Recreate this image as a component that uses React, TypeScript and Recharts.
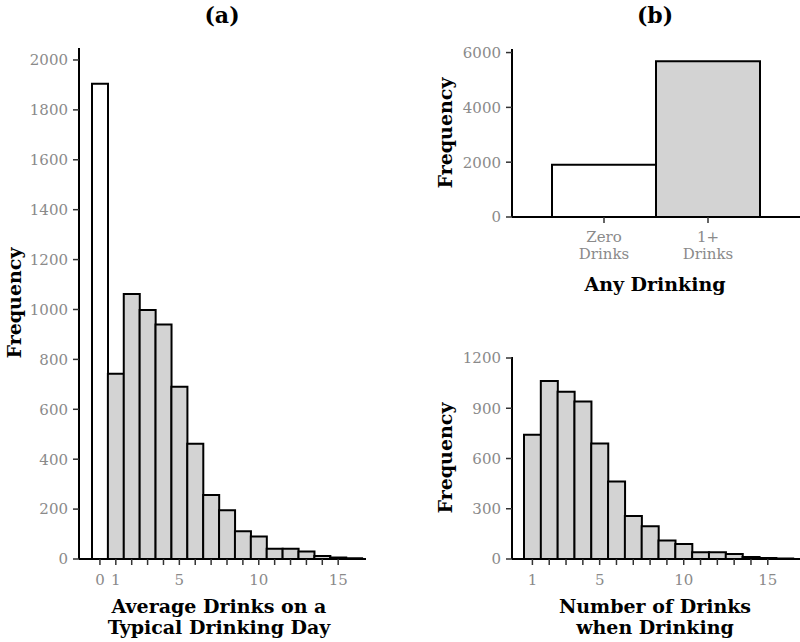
import { BarChart, Bar, XAxis, YAxis, Cell } from 'recharts';

// counts
const zeroDrinkCount = 1905;
const drinkBins = [1, 2, 3, 4, 5, 6, 7, 8, 9, 10, 11, 12, 13, 14, 15, 16];
const drinkerCounts = [742, 1062, 998, 940, 690, 462, 257, 195, 111, 90, 41, 41, 30, 12, 6, 3];
const anyDrinkingLabels = ['Zero Drinks', '1+ Drinks'];
const anyDrinkingCounts = [1905, 5680];

const avgTicks = [0, 1, 2, 3, 4, 5, 6, 7, 8, 9, 10, 11, 12, 13, 14, 15];
const avgTickLabels = [0, 1, 5, 10, 15];
const numTicks = [1, 2, 3, 4, 5, 6, 7, 8, 9, 10, 11, 12, 13, 14, 15];
const numTickLabels = [1, 5, 10, 15];
const avgYTicks = [0, 200, 400, 600, 800, 1000, 1200, 1400, 1600, 1800, 2000];
const anyYTicks = [0, 2000, 4000, 6000];
const numYTicks = [0, 300, 600, 900, 1200];

const avgData = [{ bin: 0, n: zeroDrinkCount }, ...drinkBins.map((b, i) => ({ bin: b, n: drinkerCounts[i] }))];
const numData = drinkBins.map((b, i) => ({ bin: b, n: drinkerCounts[i] }));
const anyData = anyDrinkingLabels.map((l, i) => ({ label: l, n: anyDrinkingCounts[i] }));

const GREY = '#d3d3d3';
const tickStyle = { fill: '#8a8a8a', fontSize: 15, fontFamily: 'DejaVu Serif' };
const axisLine = { stroke: '#000', strokeWidth: 2 };
const tickLine = { stroke: '#333', strokeWidth: 1.5 };
const YW = 60; // y axis width, taken out of the left margin
const XH = 40; // x axis height, taken out of the bottom margin

function Caption({ cx, cy, children, size = 19, rotate = false }: { cx: number; cy: number; children: React.ReactNode; size?: number; rotate?: boolean }) {
  return (
    <div style={{
      position: 'absolute', left: cx, top: cy, fontSize: size, fontWeight: 'bold', lineHeight: '21px',
      textAlign: 'center', whiteSpace: 'nowrap', color: '#000',
      transform: `translate(-50%, -50%)${rotate ? ' rotate(-90deg)' : ''}`,
    }}>
      {children}
    </div>
  );
}

// two stacked labels under each bar of panel (b) top
function TwoLineTick({ x, y, payload }: { x?: number; y?: number; payload?: { value: string } }) {
  const [a, b] = String(payload?.value ?? '').split(' ');
  const ty = Number(y ?? 0);
  return (
    <g>
      <text x={x} y={ty} dy="0.7em" textAnchor="middle" fill="#8a8a8a" fontSize={15} fontFamily="DejaVu Serif">{a}</text>
      <text x={x} y={ty + 17.5} dy="0.7em" textAnchor="middle" fill="#8a8a8a" fontSize={15} fontFamily="DejaVu Serif">{b}</text>
    </g>
  );
}

export default function App() {
  return (
    <div style={{ position: 'absolute', left: 0, top: 0, width: 800, height: 642, overflow: 'hidden', background: '#fff', fontFamily: 'DejaVu Serif' }}>
      <Caption cx={222} cy={15} size={22}>(a)</Caption>
      <Caption cx={655} cy={15} size={22}>(b)</Caption>

      {/* (a) average drinks */}
      <div style={{ position: 'absolute', left: 0, top: 0 }}>
        <BarChart width={400} height={642} data={avgData} barCategoryGap={0}
          margin={{ top: 48, right: 34, bottom: 83 - XH, left: 79 - YW }}>
          <XAxis dataKey="bin" type="category" height={XH} padding={{ left: 13, right: 4 }}
            ticks={avgTicks} interval={0} tickSize={6} tickMargin={9}
            tickFormatter={v => (avgTickLabels.includes(Number(v)) ? String(v) : '')}
            tick={tickStyle} axisLine={axisLine} tickLine={tickLine} />
          <YAxis type="number" width={YW} domain={[0, 2048]} ticks={avgYTicks} interval={0}
            tickSize={6} tickMargin={5} tick={tickStyle} axisLine={axisLine} tickLine={tickLine} />
          <Bar dataKey="n" stroke="#000" strokeWidth={2} isAnimationActive={false}>
            {avgData.map(d => <Cell key={d.bin} fill={d.bin === 0 ? '#fff' : GREY} />)}
          </Bar>
        </BarChart>
      </div>
      <Caption cx={14} cy={303} rotate>Frequency</Caption>
      <Caption cx={219} cy={617}>Average Drinks on a<br />Typical Drinking Day</Caption>

      {/* (b) top: any drinking */}
      <div style={{ position: 'absolute', left: 400, top: 0 }}>
        <BarChart width={400} height={300} data={anyData} barCategoryGap={0}
          margin={{ top: 49, right: 0, bottom: 83 - XH, left: 112 - YW }}>
          <XAxis dataKey="label" type="category" height={XH} padding={{ left: 40, right: 40 }}
            interval={0} tickSize={6} tickMargin={8} tick={<TwoLineTick />}
            axisLine={axisLine} tickLine={tickLine} />
          <YAxis type="number" width={YW} domain={[0, 6130]} ticks={anyYTicks} interval={0}
            tickSize={6} tickMargin={5} tick={tickStyle} axisLine={axisLine} tickLine={tickLine} />
          <Bar dataKey="n" stroke="#000" strokeWidth={2} isAnimationActive={false}>
            {anyData.map((d, i) => <Cell key={d.label} fill={i === 0 ? '#fff' : GREY} />)}
          </Bar>
        </BarChart>
      </div>
      <Caption cx={445} cy={133} rotate>Frequency</Caption>
      <Caption cx={655} cy={284}>Any Drinking</Caption>

      {/* (b) bottom: number of drinks when drinking */}
      <div style={{ position: 'absolute', left: 400, top: 320 }}>
        <BarChart width={420} height={322} data={numData} barCategoryGap={0}
          margin={{ top: 37, right: 13, bottom: 83 - XH, left: 112 - YW }}>
          <XAxis dataKey="bin" type="category" height={XH} padding={{ left: 12, right: 14 }}
            ticks={numTicks} interval={0} tickSize={6} tickMargin={9}
            tickFormatter={v => (numTickLabels.includes(Number(v)) ? String(v) : '')}
            tick={tickStyle} axisLine={axisLine} tickLine={tickLine} />
          <YAxis type="number" width={YW} domain={[0, 1206]} ticks={numYTicks} interval={0}
            tickSize={6} tickMargin={5} tick={tickStyle} axisLine={axisLine} tickLine={tickLine} />
          <Bar dataKey="n" fill={GREY} stroke="#000" strokeWidth={2} isAnimationActive={false} />
        </BarChart>
      </div>
      <Caption cx={445} cy={458} rotate>Frequency</Caption>
      <Caption cx={655} cy={617}>Number of Drinks<br />when Drinking</Caption>
    </div>
  );
}
